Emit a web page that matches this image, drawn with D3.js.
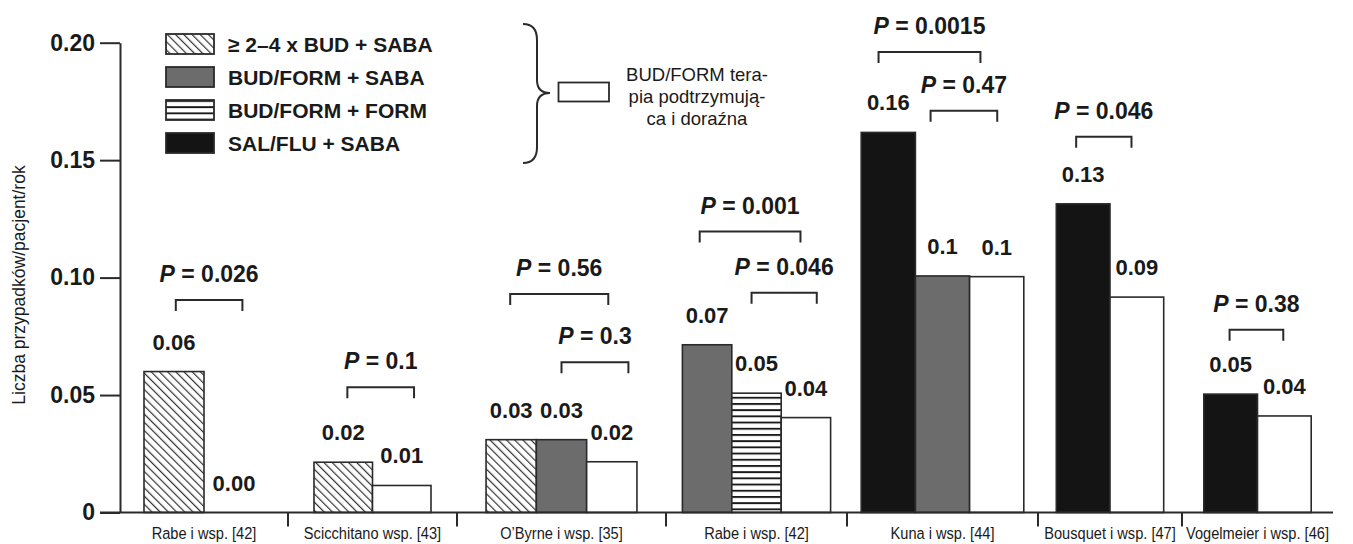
<!DOCTYPE html>
<html lang="pl">
<head>
<meta charset="UTF-8">
<title>Ciężkie zaostrzenia</title>
<style>
  body { margin: 0; background: #fff; }
  svg { display: block; font-family: "Liberation Sans", Arial, sans-serif; }
</style>
</head>
<body>
<script src="https://cdn.jsdelivr.net/npm/d3@7"></script>
<script>
// values
var studies = ['Rabe i wsp. [42]', 'Scicchitano wsp. [43]', 'O\u2019Byrne i wsp. [35]', 'Rabe i wsp. [42]',
               'Kuna i wsp. [44]', 'Bousquet i wsp. [47]', 'Vogelmeier i wsp. [46]']
var groupSeries = [['bud', 'smart'], ['bud', 'smart'], ['bud', 'budSaba', 'smart'], ['budSaba', 'budForm', 'smart'],
                   ['salSaba', 'budSaba', 'smart'], ['salSaba', 'smart'], ['salSaba', 'smart']]
var rates = [[0.060, 0.000], [0.0214, 0.0115], [0.031, 0.031, 0.0216], [0.0714, 0.0508, 0.0404],
             [0.1618, 0.1007, 0.1004], [0.1314, 0.0917], [0.0504, 0.0411]]
var rateLabels = [['0.06', '0.00'], ['0.02', '0.01'], ['0.03', '0.03', '0.02'], ['0.07', '0.05', '0.04'],
                  ['0.16', '0.1', '0.1'], ['0.13', '0.09'], ['0.05', '0.04']]
var pTests = [{g: 0, p: '0.026'}, {g: 1, p: '0.1'}, {g: 2, p: '0.56'}, {g: 2, p: '0.3'}, {g: 3, p: '0.001'},
              {g: 3, p: '0.046'}, {g: 4, p: '0.0015'}, {g: 4, p: '0.47'}, {g: 5, p: '0.046'}, {g: 6, p: '0.38'}]
var yTicks = [0, 0.05, 0.10, 0.15, 0.20]
var yTickLabels = ['0', '0.05', '0.10', '0.15', '0.20']
var seriesKeys = ['bud', 'budSaba', 'budForm', 'salSaba']
var seriesNames = ['\u2265 2\u20134 x BUD + SABA', 'BUD/FORM + SABA', 'BUD/FORM + FORM', 'SAL/FLU + SABA']
var smartName = ['BUD/FORM tera-', 'pia podtrzymuj\u0105-', 'ca i dora\u017Ana']
var yTitle = 'Liczba przypadków/pacjent/rok'

// layout
var W = 1353, H = 544
var groupWeights = [168, 169, 209, 181, 191, 144, 151]
var barWidths = [60, 58.5, 50.3, 49.4, 54.2, 53.7, 53.7]
// bracket ends in bar units from the left of the group, and bracket top in data units
var bracketPos = [[0.53, 1.64, 0.0905], [0.57, 1.71, 0.0533], [0.48, 2.43, 0.093], [1.5, 2.83, 0.0640],
                  [0.35, 2.39, 0.1196], [1.4, 2.72, 0.0936], [0.32, 2.2, 0.196], [1.28, 2.51, 0.171],
                  [0.37, 1.4, 0.160], [0.48, 1.48, 0.0778]]

var fills = {bud: 'url(#hatch)', budSaba: '#6c6c6c', budForm: 'url(#stripes)', salSaba: '#141414', smart: '#fff'}
var ink = '#2a2a2a'

var svg = d3.select('body').append('svg').attr('width', W).attr('height', H)

var defs = svg.append('defs')
var hatch = defs.append('pattern').attr('id', 'hatch').attr('patternUnits', 'userSpaceOnUse')
    .attr('width', 5.8).attr('height', 10).attr('patternTransform', 'rotate(-45)')
hatch.append('rect').attr('width', 5.8).attr('height', 10).attr('fill', '#fff')
hatch.append('line').attr('x1', 0.6).attr('y1', 0).attr('x2', 0.6).attr('y2', 10)
    .attr('stroke', '#333').attr('stroke-width', 1.2)
var stripes = defs.append('pattern').attr('id', 'stripes').attr('patternUnits', 'userSpaceOnUse')
    .attr('width', 10).attr('height', 6.2)
stripes.append('rect').attr('width', 10).attr('height', 6.2).attr('fill', '#fff')
stripes.append('rect').attr('width', 10).attr('height', 1.9).attr('fill', '#1a1a1a')

var y = d3.scaleLinear().domain([0, 0.2]).range([512.5, 42.7])
var edges = Array.from(d3.cumsum([0].concat(groupWeights)))
var x = d3.scaleLinear().domain([0, d3.sum(groupWeights)]).range([120, 1333])

var groups = studies.map(function(name, i) {
    var left = x(edges[i]), right = x(edges[i + 1]), cx = (left + right) / 2
    var n = groupSeries[i].length, bw = barWidths[i]
    var inner = d3.scaleBand().domain(d3.range(n)).range([cx - n * bw / 2, cx + n * bw / 2])
    var unit = d3.scaleLinear().domain([0, n]).range(inner.range())
    return {name: name, i: i, left: left, right: right, cx: cx, inner: inner, unit: unit}
})

// bars
var g = svg.append('g')
groups.forEach(function(gr) {
    var bars = groupSeries[gr.i].map(function(s, j) {
        return {s: s, v: rates[gr.i][j], label: rateLabels[gr.i][j], j: j}
    })
    g.selectAll(null).data(bars).enter().append('rect')
        .attr('x', function(d) { return gr.inner(d.j) })
        .attr('y', function(d) { return y(d.v) })
        .attr('width', gr.inner.bandwidth())
        .attr('height', function(d) { return y(0) - y(d.v) })
        .attr('fill', function(d) { return fills[d.s] })
        .attr('stroke', ink).attr('stroke-width', 1.6)
    g.selectAll(null).data(bars).enter().append('text')
        .attr('x', function(d) { return gr.inner(d.j) + gr.inner.bandwidth() / 2 })
        .attr('y', function(d) { return y(d.v) - 22 })
        .attr('text-anchor', 'middle')
        .attr('font-size', 22).attr('font-weight', 'bold').attr('fill', '#1a1a1a')
        .text(function(d) { return d.label })
})

// p value brackets
pTests.forEach(function(t, k) {
    var gr = groups[t.g], pos = bracketPos[k]
    var x1 = gr.unit(pos[0]), x2 = gr.unit(pos[1]), yt = y(pos[2])
    g.append('path')
        .attr('d', 'M' + x1 + ',' + (yt + 11) + 'V' + yt + 'H' + x2 + 'V' + (yt + 11))
        .attr('fill', 'none').attr('stroke', ink).attr('stroke-width', 2)
    var txt = g.append('text').attr('x', (x1 + x2) / 2).attr('y', yt - 18)
        .attr('text-anchor', 'middle').attr('font-size', 23).attr('font-weight', 'bold').attr('fill', '#1a1a1a')
    txt.append('tspan').attr('font-style', 'italic').text('P')
    txt.append('tspan').text(' = ' + t.p)
})

// y axis
var yAxis = d3.axisLeft(y).tickValues(yTicks)
    .tickFormat(function(d, i) { return yTickLabels[i] })
    .tickSize(20).tickSizeOuter(0).tickPadding(5)
var ya = svg.append('g').attr('transform', 'translate(120,0)').call(yAxis)
ya.selectAll('path, line').attr('stroke', ink).attr('stroke-width', 2)
ya.selectAll('text').attr('font-size', 23).attr('font-weight', 'bold').attr('fill', '#1a1a1a')
    .attr('font-family', '"Liberation Sans", Arial, sans-serif')

// x axis with separators between studies
svg.append('line').attr('x1', 100).attr('x2', x.range()[1]).attr('y1', y(0)).attr('y2', y(0))
    .attr('stroke', ink).attr('stroke-width', 2)
svg.selectAll(null).data(groups.slice(1)).enter().append('line')
    .attr('x1', function(d) { return d.left }).attr('x2', function(d) { return d.left })
    .attr('y1', y(0)).attr('y2', y(0) + 14)
    .attr('stroke', ink).attr('stroke-width', 2)
// the study names are set in a narrow face in the original
svg.selectAll(null).data(groups).enter().append('text')
    .attr('transform', function(d) { return 'translate(' + d.cx + ',539) scale(0.86,1)' })
    .attr('text-anchor', 'middle').attr('font-size', 17).attr('fill', '#1a1a1a')
    .text(function(d) { return d.name })

svg.append('text')
    .attr('transform', 'translate(25,285) rotate(-90)')
    .attr('text-anchor', 'middle').attr('font-size', 17.5).attr('fill', '#1a1a1a')
    .text(yTitle)

// legend
var lg = svg.append('g').attr('transform', 'translate(166,34)')
var rows = lg.selectAll('g').data(seriesKeys).enter().append('g')
    .attr('transform', function(d, i) { return 'translate(0,' + (i * 33) + ')' })
rows.append('rect').attr('width', 48).attr('height', 20)
    .attr('fill', function(d) { return fills[d] }).attr('stroke', ink).attr('stroke-width', 1.8)
rows.append('text').attr('x', 62).attr('y', 17.5)
    .attr('font-size', 21).attr('font-weight', 'bold').attr('fill', '#1a1a1a')
    .text(function(d, i) { return seriesNames[i] })

// brace and the white series
svg.append('path')
    .attr('d', 'M523,24 Q537,24 537,40 L537,80 Q537,93 550,93 Q537,93 537,106 L537,147 Q537,163 523,163')
    .attr('fill', 'none').attr('stroke', ink).attr('stroke-width', 2)
svg.append('rect').attr('x', 558.5).attr('y', 82.5).attr('width', 50.5).attr('height', 19)
    .attr('fill', fills.smart).attr('stroke', ink).attr('stroke-width', 1.8)
svg.append('g').selectAll('text').data(smartName).enter().append('text')
    .attr('x', 697).attr('y', function(d, i) { return 81 + i * 22 })
    .attr('text-anchor', 'middle').attr('font-size', 18.5).attr('fill', '#1a1a1a')
    .text(function(d) { return d })
</script>
</body>
</html>
